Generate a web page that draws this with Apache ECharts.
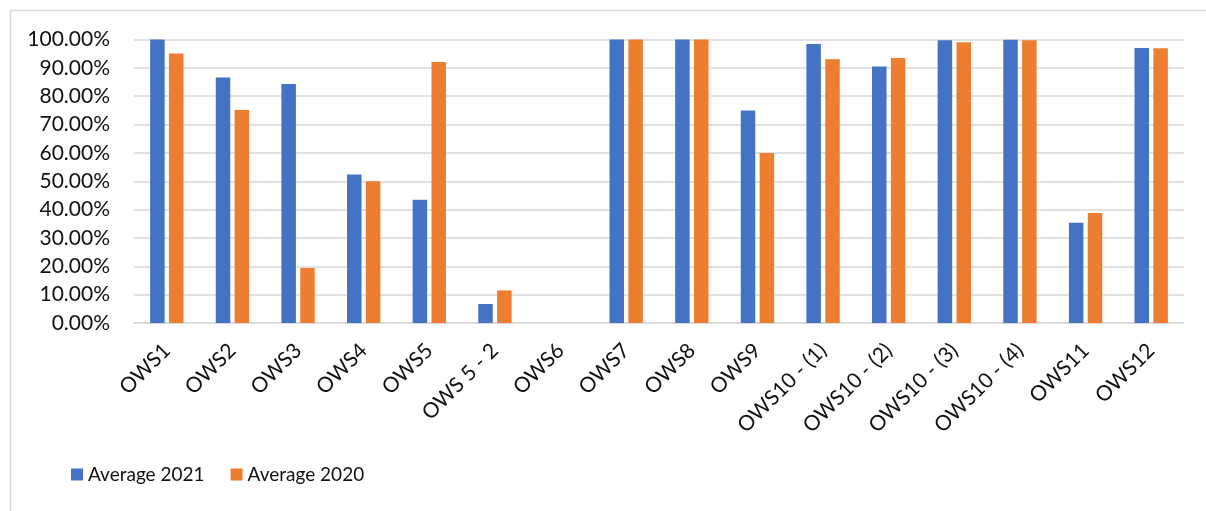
<!DOCTYPE html>
<html>
<head>
<meta charset="utf-8">
<script src="https://cdn.jsdelivr.net/npm/echarts@6/dist/echarts.min.js"></script>
<style>
html, body { margin: 0; padding: 0; background: #fff; }
#chart { width: 1206px; height: 511px; }
</style>
</head>
<body>
<div id="chart"></div>
<script>
var categories = ['OWS1', 'OWS2', 'OWS3', 'OWS4', 'OWS5', 'OWS 5 - 2', 'OWS6', 'OWS7', 'OWS8', 'OWS9',
    'OWS10 - (1)', 'OWS10 - (2)', 'OWS10 - (3)', 'OWS10 - (4)', 'OWS11', 'OWS12'];
var avg2021 = [1.00, 0.866, 0.843, 0.524, 0.435, 0.067, 0, 1.00, 1.00, 0.750,
    0.984, 0.905, 0.997, 0.999, 0.354, 0.970];
var avg2020 = [0.951, 0.751, 0.194, 0.500, 0.921, 0.115, 0, 1.00, 1.00, 0.600,
    0.930, 0.935, 0.990, 0.997, 0.388, 0.969];
var colors = ['#4472C4', '#ED7D31'];
var font = 'Lato';

var myChart = echarts.init(document.getElementById('chart'));
var option = {
    color: colors,
    animation: false,
    textStyle: { fontFamily: font },
    graphic: [{
        type: 'rect',
        shape: { x: 10.5, y: 10.5, width: 1220, height: 520 },
        style: { fill: 'none', stroke: '#d9d9d9', lineWidth: 1.5 },
        silent: true
    }],
    grid: { left: 134, right: 22, top: 39.5, bottom: 188 },
    legend: {
        left: 66,
        top: 460,
        itemWidth: 12,
        itemHeight: 12,
        itemGap: 26,
        icon: 'rect',
        textStyle: { fontFamily: font, fontSize: 19, color: '#111' },
        data: ['Average 2021', 'Average 2020']
    },
    xAxis: {
        type: 'category',
        data: categories,
        axisTick: { show: false },
        axisLine: { lineStyle: { color: '#d9d9d9', width: 1.5 } },
        axisLabel: {
            rotate: 45,
            interval: 0,
            margin: 24,
            fontFamily: font,
            fontSize: 21,
            color: '#111'
        }
    },
    yAxis: {
        type: 'value',
        min: 0,
        max: 1,
        interval: 0.1,
        axisLine: { show: false },
        axisTick: { show: false },
        splitLine: { lineStyle: { color: '#d9d9d9', width: 1.5 } },
        axisLabel: {
            margin: 24,
            fontFamily: font,
            fontSize: 21,
            color: '#111',
            formatter: function (v) { return (v * 100).toFixed(2) + '%'; }
        }
    },
    series: [
        {
            name: 'Average 2021',
            type: 'bar',
            data: avg2021,
            barWidth: 14.5,
            barGap: '30%'
        },
        {
            name: 'Average 2020',
            type: 'bar',
            data: avg2020,
            barWidth: 14.5
        }
    ]
};
myChart.setOption(option);
</script>
</body>
</html>
